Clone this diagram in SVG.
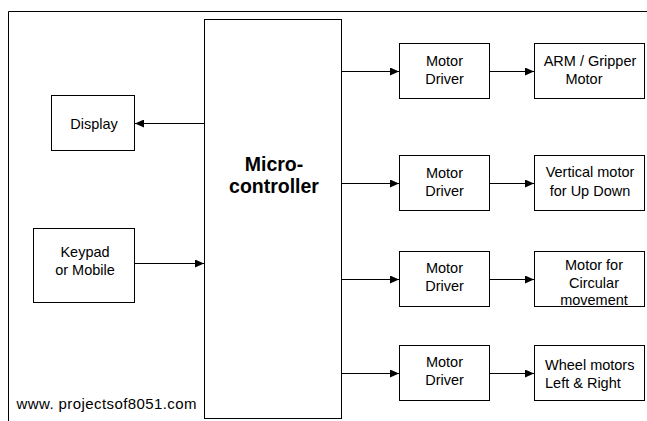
<svg xmlns="http://www.w3.org/2000/svg" width="647" height="421" viewBox="0 0 647 421">
<style>
.box{fill:#fff;stroke:#000;stroke-width:1}
.ln{stroke:#000;stroke-width:1;fill:none}
text{font-family:"Liberation Sans",Arial,sans-serif;font-size:14.5px;fill:#000}
.c{text-anchor:middle}
.big{font-size:19.5px;font-weight:bold}
</style>
<defs>
<marker id="ah" markerWidth="9" markerHeight="8" refX="9" refY="4" orient="auto" markerUnits="userSpaceOnUse">
<path d="M0,0 L9,4 L0,8 Z" fill="#000"/>
</marker>
</defs>
<rect width="647" height="421" fill="#fff"/>
<path class="ln" d="M8.5,421 V11.5 H647"/>
<g id="connectors">
<line class="ln" x1="204.5" y1="123.5" x2="135" y2="123.5" marker-end="url(#ah)"/>
<line class="ln" x1="134.5" y1="263.5" x2="204" y2="263.5" marker-end="url(#ah)"/>
<line class="ln" x1="341.5" y1="71.5" x2="399" y2="71.5" marker-end="url(#ah)"/>
<line class="ln" x1="341.5" y1="183.5" x2="399" y2="183.5" marker-end="url(#ah)"/>
<line class="ln" x1="341.5" y1="279.5" x2="399" y2="279.5" marker-end="url(#ah)"/>
<line class="ln" x1="341.5" y1="373.5" x2="399" y2="373.5" marker-end="url(#ah)"/>
<line class="ln" x1="489.5" y1="71.5" x2="534" y2="71.5" marker-end="url(#ah)"/>
<line class="ln" x1="489.5" y1="183.5" x2="534" y2="183.5" marker-end="url(#ah)"/>
<line class="ln" x1="489.5" y1="279.5" x2="534" y2="279.5" marker-end="url(#ah)"/>
<line class="ln" x1="489.5" y1="373.5" x2="534" y2="373.5" marker-end="url(#ah)"/>
</g>
<g id="mcu">
<rect class="box" x="204.5" y="19.5" width="137" height="399"/>
<text class="c big" x="274" y="171">Micro-</text>
<text class="c big" x="274" y="193">controller</text>
</g>
<g id="display">
<rect class="box" x="51.5" y="95.5" width="83" height="55"/>
<text class="c" x="94" y="128.5">Display</text>
</g>
<g id="keypad">
<rect class="box" x="33.5" y="228.5" width="101" height="74"/>
<text class="c" x="85" y="256.5">Keypad</text>
<text class="c" x="85" y="274.5">or Mobile</text>
</g>
<g id="driver1">
<rect class="box" x="399.5" y="43.5" width="90" height="55"/>
<text class="c" x="444.5" y="66">Motor</text>
<text class="c" x="444.5" y="84">Driver</text>
</g>
<g id="driver2">
<rect class="box" x="399.5" y="155.5" width="90" height="55"/>
<text class="c" x="444.5" y="178">Motor</text>
<text class="c" x="444.5" y="196">Driver</text>
</g>
<g id="driver3">
<rect class="box" x="399.5" y="251.5" width="90" height="55"/>
<text class="c" x="444.5" y="273">Motor</text>
<text class="c" x="444.5" y="291">Driver</text>
</g>
<g id="driver4">
<rect class="box" x="399.5" y="345.5" width="90" height="55"/>
<text class="c" x="444.5" y="367">Motor</text>
<text class="c" x="444.5" y="385">Driver</text>
</g>
<g id="arm">
<rect class="box" x="534.5" y="43.5" width="110" height="55"/>
<text class="c" x="590" y="66">ARM / Gripper</text>
<text class="c" x="584" y="84">Motor</text>
</g>
<g id="vertical">
<rect class="box" x="534.5" y="155.5" width="110" height="55"/>
<text class="c" x="590" y="177">Vertical motor</text>
<text class="c" x="590" y="196">for Up Down</text>
</g>
<g id="circular">
<rect class="box" x="534.5" y="251.5" width="110" height="55"/>
<text class="c" x="594" y="269.5">Motor for</text>
<text class="c" x="594" y="287.5">Circular</text>
<text class="c" x="594" y="305">movement</text>
</g>
<g id="wheel">
<rect class="box" x="534.5" y="345.5" width="110" height="55"/>
<text x="545" y="370">Wheel motors</text>
<text x="545" y="388">Left &amp; Right</text>
</g>
<text x="16.5" y="408.5" style="font-size:15px" textLength="180">www. projectsof8051.com</text>
</svg>
